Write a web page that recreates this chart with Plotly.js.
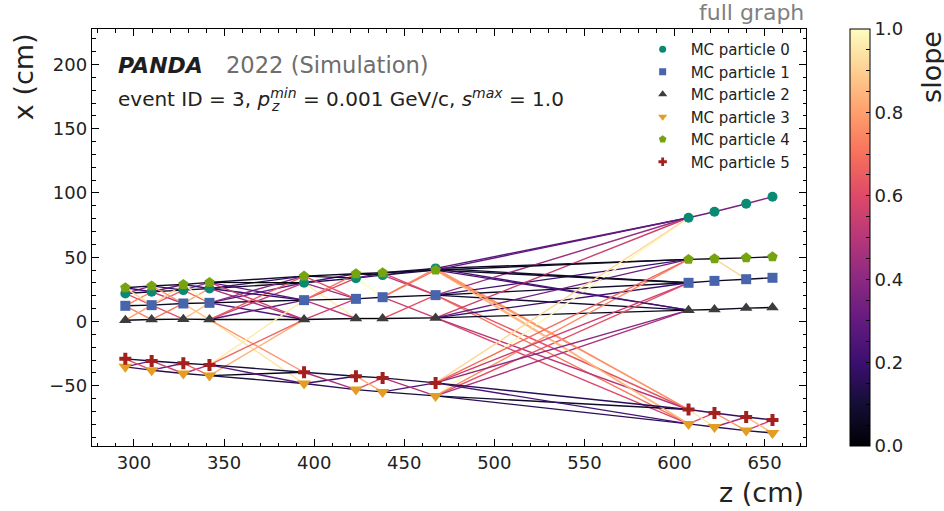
<!DOCTYPE html>
<html><head><meta charset="utf-8">
<script src="https://cdn.plot.ly/plotly-3.0.1.min.js"></script>
<style>html,body{margin:0;padding:0;background:#fff}</style>
</head><body><div id="chart" style="width:944px;height:511px"></div>
<script>
// ---------------- data ----------------
const layerZ = [295.2, 309.8, 327.4, 341.9, 394.4, 423.2, 438.0, 467.4, 607.8, 622.2, 639.8, 654.4];
const particleNames = ['MC particle 0','MC particle 1','MC particle 2','MC particle 3','MC particle 4','MC particle 5'];
const xP0 = [21.8, 23.1, 24.4, 25.7, 30.1, 33.7, 36.1, 41.3, 80.7, 85.4, 91.6, 97.0];
const xP1 = [12.2, 12.7, 14.0, 14.5, 16.6, 17.6, 18.9, 20.5, 30.1, 31.6, 32.9, 34.0];
const xP2 = [1.0, 1.5, 1.8, 1.5, 1.5, 2.3, 2.3, 2.8, 8.8, 9.3, 10.4, 10.9];
const xP3 = [-35.3, -37.9, -40.5, -42.1, -48.3, -53.0, -54.8, -57.9, -79.7, -82.1, -84.9, -86.8];
const xP4 = [26.2, 27.7, 28.8, 30.4, 35.3, 37.1, 37.9, 40.0, 48.3, 48.8, 49.5, 50.3];
const xP5 = [-29.1, -30.7, -32.5, -33.8, -39.5, -42.6, -43.9, -47.8, -68.5, -71.2, -74.3, -76.6];
const sMax = 1.0;
const cbTicks = [0, 0.05, 0.1, 0.15, 0.2, 0.25, 0.3, 0.35, 0.4, 0.45, 0.5, 0.55, 0.6, 0.65, 0.7, 0.75, 0.8, 0.85, 0.9, 0.95, 1.0];
const cbLabels = ['0.0','','','','0.2','','','','0.4','','','','0.6','','','','0.8','','','','1.0'];

// ---------------- styles ----------------
const particleX = [xP0, xP1, xP2, xP3, xP4, xP5];
const colors = ['#0a8a72', '#4764ac', '#3c3c3c', '#e39d22', '#77a30e', '#a3201f'];
const symbols = ['circle', 'square', 'triangle-up', 'triangle-down', 'pentagon', 'cross'];
const sizes = [10, 10, 11, 12, 11, 10];
const legSizes = [7, 7, 8, 8, 8, 7];
const FONT = 'DejaVu Sans, Verdana, sans-serif';
const magmaStops = ['#000004','#140e36','#3b0f70','#641a80','#8c2981','#b73779','#de4968','#f7705c','#fe9f6d','#fecf92','#fcfdbf'];
const magma = magmaStops.map((c, i) => [i / (magmaStops.length - 1), c]);
function hex2rgb(h){return [parseInt(h.slice(1,3),16),parseInt(h.slice(3,5),16),parseInt(h.slice(5,7),16)];}
function magmaColor(t){
  t = Math.max(0, Math.min(1, t));
  const n = magmaStops.length - 1, f = t * n, i = Math.min(n - 1, Math.floor(f)), u = f - i;
  const a = hex2rgb(magmaStops[i]), b = hex2rgb(magmaStops[i+1]);
  return 'rgb(' + a.map((v, k) => Math.round(v + (b[k]-v)*u)).join(',') + ')';
}

// plot area in pixels
const L = 92.3, R = 805.7, T = 29, B = 445.7;
const W = 944, H = 511;
const pxX = p => (p - L) / (R - L);
const pxY = p => (B - p) / (B - T);

const traces = [];
// edges between hits in consecutive layers with slope <= sMax
for (let l = 0; l < layerZ.length - 1; l++) {
  const dz = layerZ[l+1] - layerZ[l];
  for (let i = 0; i < particleX.length; i++) {
    for (let j = 0; j < particleX.length; j++) {
      const x0 = particleX[i][l], x1 = particleX[j][l+1];
      const s = Math.abs(x1 - x0) / dz;
      if (s <= sMax) {
        traces.push({type:'scatter', mode:'lines', x:[layerZ[l], layerZ[l+1]], y:[x0, x1],
          line:{color: magmaColor(s / sMax), width:1.4}, hoverinfo:'skip', showlegend:false});
      }
    }
  }
}
// hits
particleX.forEach((xs, k) => {
  traces.push({type:'scatter', mode:'markers', x:layerZ, y:xs, name:particleNames[k], showlegend:false,
    marker:{symbol:symbols[k], size:sizes[k], color:colors[k], line:{width:0}}});
});
// legend entries
particleX.forEach((xs, k) => {
  traces.push({type:'scatter', mode:'markers', x:[null], y:[null], name:particleNames[k], legendgroup:'g'+k,
    marker:{symbol:symbols[k], size:legSizes[k], color:colors[k], line:{width:0}}});
});
// colorbar
traces.push({type:'scatter', mode:'markers', x:[null], y:[null], showlegend:false, hoverinfo:'skip',
  marker:{color:[0], cmin:0, cmax:sMax, colorscale:magma, showscale:true,
    colorbar:{x:pxX(850), xanchor:'left', xpad:0, ypad:0, y:0.5, yanchor:'middle', len:1, lenmode:'fraction',
      thickness:20, thicknessmode:'pixels', outlinewidth:1, outlinecolor:'#000',
      tickvals:cbTicks, ticktext:cbLabels, ticks:'inside', ticklen:4, tickcolor:'#000',
      tickfont:{family:FONT, size:18, color:'#222'}}}});

// measure text for sub/superscript placement
const cv = document.createElement('canvas').getContext('2d');
cv.font = '20px "DejaVu Sans"';
const wPre = cv.measureText('event ID = 3, ').width;
cv.font = 'italic 20px "DejaVu Sans"';
const wP = cv.measureText('p').width;

const axisCommon = {showline:true, linecolor:'#000', linewidth:1.2, mirror:'allticks', ticks:'inside', ticklen:7,
  tickwidth:1, tickcolor:'#000', showgrid:false, zeroline:false, tickfont:{family:FONT, size:18, color:'#222'},
  minor:{ticks:'inside', ticklen:3.5, tickwidth:1, tickcolor:'#000', dtick:10, showgrid:false}};

const layout = {
  width:W, height:H, margin:{l:L, r:W-R, t:T, b:H-B, pad:0},
  paper_bgcolor:'#fff', plot_bgcolor:'#fff', font:{family:FONT, color:'#222'},
  xaxis:Object.assign({}, axisCommon, {range:[276.7, 673], dtick:50, tick0:0}),
  yaxis:Object.assign({}, axisCommon, {range:[-96.9, 227.6], dtick:50, tick0:0}),
  showlegend:true,
  legend:{x:pxX(634.5), y:pxY(33), xanchor:'left', yanchor:'top', bgcolor:'rgba(0,0,0,0)', borderwidth:0,
    font:{family:FONT, size:15, color:'#222'}, itemwidth:46, traceorder:'grouped', tracegroupgap:0},
  annotations:[
    {xref:'paper', yref:'paper', x:pxX(24), y:1, xanchor:'center', yanchor:'top', yshift:-2, textangle:-90,
     text:'x (cm)', showarrow:false, font:{family:FONT, size:27, color:'#222'}},
    {xref:'paper', yref:'paper', x:1, y:pxY(491.7), xanchor:'right', yanchor:'middle',
     text:'z (cm)', showarrow:false, font:{family:FONT, size:27, color:'#222'}},
    {xref:'paper', yref:'paper', x:pxX(930.5), y:1, xanchor:'center', yanchor:'top', textangle:-90,
     text:'slope', showarrow:false, font:{family:FONT, size:27, color:'#222'}},
    {xref:'paper', yref:'paper', x:1, y:pxY(13), xanchor:'right', yanchor:'middle',
     text:'full graph', showarrow:false, font:{family:FONT, size:22, color:'#808080'}},
    {xref:'paper', yref:'paper', x:pxX(116), y:pxY(65), xanchor:'left', yanchor:'middle',
     text:'<b><i>PANDA</i></b>', showarrow:false, font:{family:FONT, size:22, color:'#1e1e1e'}},
    {xref:'paper', yref:'paper', x:pxX(224), y:pxY(65), xanchor:'left', yanchor:'middle',
     text:'2022 (Simulation)', showarrow:false, font:{family:FONT, size:22.6, color:'#6e6e6e'}},
    {xref:'paper', yref:'paper', x:pxX(116), y:pxY(98), xanchor:'left', yanchor:'middle',
     text:'event ID = 3, <i>p</i><sup><i>min</i></sup> = 0.001 GeV/c, <i>s</i><sup><i>max</i></sup> = 1.0',
     showarrow:false, font:{family:FONT, size:20, color:'#222'}},
    {xref:'paper', yref:'paper', x:pxX(116 + 1 + wPre + wP), y:pxY(106), xanchor:'left', yanchor:'middle',
     text:'<i>z</i>', showarrow:false, font:{family:FONT, size:14, color:'#222'}}
  ]
};
Plotly.newPlot('chart', traces, layout, {displayModeBar:false, staticPlot:true});
</script></body></html>
